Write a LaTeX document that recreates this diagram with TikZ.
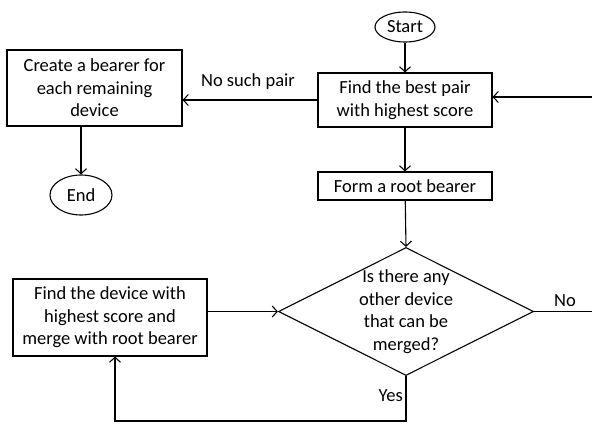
\documentclass[tikz,border=0pt]{standalone}
\usepackage{fontspec}
\setmainfont{Carlito}
\usetikzlibrary{shapes.geometric,arrows.meta}
\begin{document}
\begin{tikzpicture}[x=1pt,y=-1pt,
  every node/.style={font=\fontsize{18.5}{22.5}\selectfont},
  box/.style={draw,line width=1.1pt,rectangle,align=center,inner sep=0pt},
  oval/.style={draw,line width=1.1pt,ellipse,inner sep=0pt},
  arr/.style={line width=1.1pt,-{Straight Barb[length=5pt,width=11pt,line width=1.1pt]}},
  ln/.style={line width=1.1pt},
  lbl/.style={inner sep=0pt}]
\useasboundingbox (0,0) rectangle (592,428);
\node[oval,minimum width=60pt,minimum height=30pt] (start) at (405,27) {Start};
\node[box,minimum width=174pt,minimum height=54pt] (find) at (405,100) {Find the best pair\\with highest score};
\node[box,minimum width=174pt,minimum height=28pt] (form) at (405,186) {Form a root bearer};
\node[box,minimum width=175pt,minimum height=76pt] (create) at (94.5,88) {Create a bearer for\\each remaining\\device};
\node[oval,minimum width=62pt,minimum height=40pt] (end) at (81,195) {End};
\node[draw,line width=1.1pt,diamond,inner sep=0pt,minimum width=255pt,minimum height=128pt] (dec) at (406,311.5) {};
\node[lbl,align=center] (dectext) at (406,311.5) {Is there any\\other device\\that can be\\merged?};
\node[box,minimum width=194pt,minimum height=77pt] (merge) at (110,317.5) {Find the device with\\highest score and\\merge with root bearer};
\coordinate (rin) at (592,97);
\coordinate (rout) at (592,311.5);
\coordinate (loop) at (406,421);
\draw[arr] (start) -- (find);
\draw[arr] (find) -- (form);
\draw[arr] (form) -- (dec.north);
\draw[arr] (find.west) -- (find.west -| create.east);
\draw[arr] (create.south -| end.north) -- (end.north);
\draw[arr] (rin) -- (rin -| find.east);
\draw[arr] (dec.west -| merge.east) -- (dec.west);
\draw[ln] (dec.east) -- (rout);
\draw[arr] (dec.south) -- (loop) -| ([xshift=5pt]merge.south);
\node[lbl] (nosuch) at (248,82) {No such pair};
\node[lbl] (no) at (565,301) {No};
\node[lbl,anchor=east] (yes) at (403,396) {Yes};
\end{tikzpicture}
\end{document}
